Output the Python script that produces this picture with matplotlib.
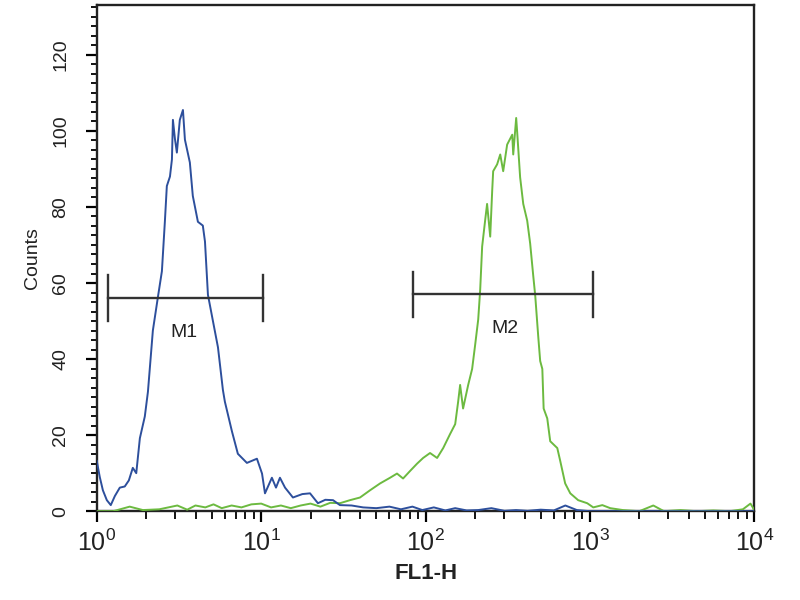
import numpy as np
import matplotlib
matplotlib.use("Agg")
import matplotlib.pyplot as plt
from matplotlib.ticker import FixedLocator, MultipleLocator, LogLocator, NullFormatter

plt.rcParams['font.family'] = ['Liberation Sans', 'DejaVu Sans']
plt.rcParams['mathtext.fontset'] = 'custom'
plt.rcParams['mathtext.rm'] = 'Liberation Sans'

# ---- data (log10 of FL1-H intensity, counts) ----
blue_log_fl1 = [0.000, 0.018, 0.037, 0.061, 0.085, 0.110, 0.140, 0.170, 0.195, 0.219,
                0.240, 0.262, 0.292, 0.311, 0.341, 0.371, 0.396, 0.414, 0.426, 0.445,
                0.457, 0.463, 0.475, 0.487, 0.505, 0.524, 0.536, 0.566, 0.584, 0.615,
                0.645, 0.658, 0.676, 0.706, 0.737, 0.767, 0.779, 0.822, 0.858, 0.913,
                0.974, 1.005, 1.023, 1.065, 1.090, 1.114, 1.145, 1.193, 1.250, 1.297,
                1.345, 1.390, 1.437, 1.479, 1.55, 1.62, 1.70, 1.78, 1.85, 1.92,
                1.98, 2.05, 2.12, 2.18, 2.25, 2.32, 2.40, 2.48, 2.55, 2.62,
                2.70, 2.78, 2.85, 2.92, 3.00, 3.10, 3.25, 3.50, 3.75, 4.00]
blue_counts = [13.2, 9.0, 5.5, 2.9, 1.6, 4.0, 6.2, 6.5, 8.1, 11.4,
               10.0, 19.2, 24.9, 31.4, 47.5, 56.1, 63.1, 76.1, 85.5, 88.0,
               92.5, 102.9, 98.0, 94.3, 102.9, 105.5, 97.7, 91.7, 82.9, 76.1,
               75.1, 70.9, 56.9, 50.1, 43.1, 31.9, 28.8, 21.0, 15.1, 12.7,
               13.8, 9.9, 4.7, 8.8, 6.2, 8.8, 6.2, 3.6, 4.5, 4.7,
               2.1, 3.0, 2.9, 1.6, 1.5, 1.0, 0.8, 1.2, 0.5, 1.2,
               0.3, 1.0, 0.2, 0.8, 0.2, 0.3, 0.8, 0.1, 0.3, 0.1,
               0.4, 0.2, 1.5, 0.3, 0.0, 0.0, 0.0, 0.0, 0.0, 0.0]

green_log_fl1 = [0.00, 0.10, 0.20, 0.28, 0.38, 0.49, 0.55, 0.60, 0.66, 0.71,
                 0.76, 0.82, 0.88, 0.94, 1.00, 1.06, 1.12, 1.18, 1.24, 1.30,
                 1.36, 1.42, 1.479, 1.540, 1.601, 1.662, 1.723, 1.784, 1.826, 1.863,
                 1.906, 1.948, 1.985, 2.027, 2.070, 2.107, 2.149, 2.180, 2.198, 2.210,
                 2.228, 2.259, 2.283, 2.301, 2.320, 2.332, 2.344, 2.362, 2.374, 2.393,
                 2.405, 2.411, 2.435, 2.454, 2.472, 2.496, 2.527, 2.533, 2.551, 2.557,
                 2.575, 2.594, 2.618, 2.636, 2.655, 2.667, 2.685, 2.697, 2.710, 2.718,
                 2.740, 2.758, 2.801, 2.819, 2.849, 2.880, 2.928, 2.983, 3.020, 3.075,
                 3.123, 3.20, 3.30, 3.385, 3.45, 3.55, 3.65, 3.75, 3.85, 3.93,
                 3.976, 4.00]
green_counts = [0.0, 0.0, 1.2, 0.3, 0.5, 1.5, 0.4, 1.5, 1.0, 1.8,
                0.8, 1.5, 1.0, 1.8, 2.0, 1.0, 1.5, 0.8, 1.5, 2.0,
                1.2, 2.2, 2.1, 2.9, 3.6, 5.5, 7.3, 8.8, 9.9, 8.6,
                10.6, 12.5, 14.0, 15.3, 14.0, 16.6, 20.3, 22.9, 28.8, 33.2,
                27.0, 33.2, 37.4, 43.6, 50.4, 58.2, 69.6, 76.4, 80.8, 72.2,
                84.2, 89.4, 91.2, 93.8, 89.4, 96.4, 99.0, 93.8, 103.4, 99.7,
                87.8, 80.8, 76.4, 70.4, 61.8, 56.6, 46.0, 39.5, 37.4, 27.0,
                24.4, 18.4, 16.6, 13.2, 7.3, 4.7, 2.9, 2.1, 1.0, 1.6,
                0.8, 0.3, 0.0, 1.5, 0.0, 0.3, 0.0, 0.2, 0.0, 0.5,
                2.0, 0.3]

# markers: (name, start, end, level)
marker_names = ["M1", "M2"]
marker_start = [1.17, 84.0]
marker_end = [10.3, 1050.0]
marker_level = [56, 57]
marker_label_x = [3.4, 305.0]

x_tick_values = [1, 10, 100, 1000, 10000]
x_tick_labels = [r'$\mathregular{10^{0}}$', r'$\mathregular{10^{1}}$', r'$\mathregular{10^{2}}$',
                 r'$\mathregular{10^{3}}$', r'$\mathregular{10^{4}}$']
y_tick_values = [0, 20, 40, 60, 80, 100, 120]

fig = plt.figure(figsize=(8, 6), dpi=100)
ax = fig.add_axes([0.121, 0.148, 0.822, 0.843])

ax.plot(10 ** np.array(green_log_fl1), green_counts, color='#6cba40', lw=1.4, zorder=3)
ax.plot(10 ** np.array(blue_log_fl1), blue_counts, color='#2d4f9c', lw=1.4, zorder=4)

for name, s, e, lv, lx in zip(marker_names, marker_start, marker_end, marker_level, marker_label_x):
    ax.plot([s, e], [lv, lv], color='#333333', lw=1.7, zorder=5)
    ax.plot([s, s], [lv - 6, lv + 6], color='#333333', lw=1.7, zorder=5)
    ax.plot([e, e], [lv - 6, lv + 6], color='#333333', lw=1.7, zorder=5)
    ax.text(lx, lv - 9, name, ha='center', va='center', fontsize=14, color='#222222', zorder=6)

ax.set_xscale('log')
ax.set_xlim(1, 10000)
ax.set_ylim(0, 133)

ax.xaxis.set_major_locator(FixedLocator(x_tick_values))
ax.set_xticklabels(x_tick_labels, fontsize=18, color='#222222')
ax.xaxis.set_minor_locator(LogLocator(base=10, subs=np.arange(2, 10), numticks=20))
ax.xaxis.set_minor_formatter(NullFormatter())

ax.yaxis.set_major_locator(FixedLocator(y_tick_values))
ax.set_yticklabels([str(v) for v in y_tick_values], rotation=90, va='center', fontsize=14, color='#222222')
ax.yaxis.set_minor_locator(MultipleLocator(2.5))

ax.tick_params(axis='x', which='major', direction='out', length=8, width=1.6, pad=5)
ax.tick_params(axis='x', which='minor', direction='out', length=6, width=1.3)
ax.tick_params(axis='y', which='major', direction='out', length=8, width=1.6, pad=12)
ax.tick_params(axis='y', which='minor', direction='out', length=4, width=1.3)

for sp in ax.spines.values():
    sp.set_linewidth(1.7)
    sp.set_color('#222222')

ax.set_xlabel('FL1-H', fontsize=16, fontweight='bold', labelpad=5, color='#222222')
ax.set_ylabel('Counts', fontsize=14, labelpad=8, color='#222222')

fig.savefig('out.png', dpi=100)
